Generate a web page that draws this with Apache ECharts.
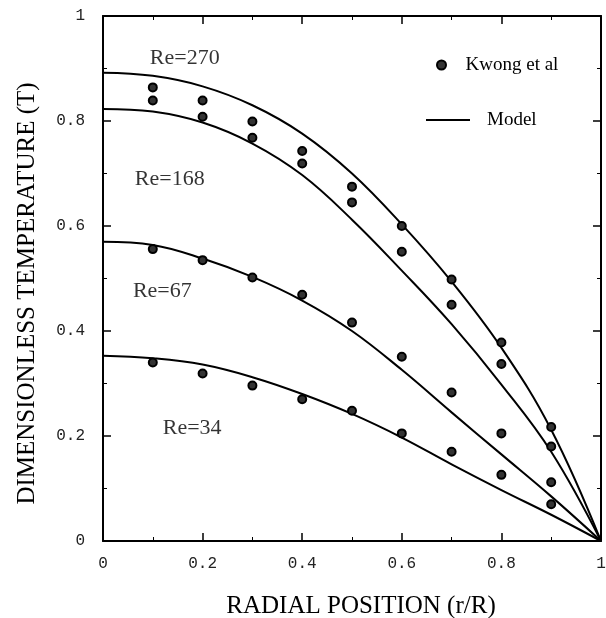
<!DOCTYPE html>
<html>
<head>
<meta charset="utf-8">
<script src="https://cdn.jsdelivr.net/npm/echarts@6/dist/echarts.min.js"></script>
<style>
  html, body { margin: 0; padding: 0; background: #fff; }
  #chart { width: 606px; height: 618px; }
</style>
</head>
<body>
<div id="chart"></div>
<script>
// model curves, T vs r/R
var modelX = [0, 0.1, 0.2, 0.3, 0.4, 0.5, 0.6, 0.7, 0.8, 0.9, 1.0];
var model270 = [0.892, 0.886, 0.866, 0.830, 0.776, 0.700, 0.603, 0.494, 0.368, 0.212, 0];
var model168 = [0.823, 0.818, 0.797, 0.757, 0.697, 0.612, 0.515, 0.413, 0.298, 0.170, 0];
var model67  = [0.570, 0.564, 0.538, 0.503, 0.458, 0.400, 0.326, 0.245, 0.165, 0.085, 0];
var model34  = [0.353, 0.348, 0.336, 0.312, 0.280, 0.242, 0.197, 0.146, 0.097, 0.050, 0];

// Kwong et al measurements
var kwongX   = [0.1, 0.2, 0.3, 0.4, 0.5, 0.6, 0.7, 0.8, 0.9];
var kwong270 = [0.864, 0.839, 0.799, 0.743, 0.675, 0.600, 0.498, 0.378, 0.217];
var kwong168 = [0.839, 0.808, 0.768, 0.719, 0.645, 0.551, 0.450, 0.337, 0.180];
var kwong67  = [0.556, 0.535, 0.502, 0.469, 0.416, 0.351, 0.283, 0.205, 0.112];
var kwong34  = [0.340, 0.319, 0.296, 0.270, 0.248, 0.205, 0.170, 0.126, 0.070];

// curve labels (text, and where they sit in data coords)
var reNames = ['Re=270', 'Re=168', 'Re=67', 'Re=34'];
var reLabelAt = [[0.094, 0.92], [0.064, 0.69], [0.060, 0.476], [0.12, 0.214]];

function zip(xs, ys) {
  return xs.map(function (x, i) { return [x, ys[i]]; });
}

var kwongData = []
  .concat(zip(kwongX, kwong270))
  .concat(zip(kwongX, kwong168))
  .concat(zip(kwongX, kwong67))
  .concat(zip(kwongX, kwong34));

var serif = 'Liberation Serif';
var mono = 'Liberation Mono';

function lineSeries(ys) {
  return {
    name: 'Model',
    type: 'line',
    data: zip(modelX, ys),
    smooth: 0.4,
    symbol: 'none',
    lineStyle: { color: '#000', width: 2 },
    itemStyle: { color: '#000' },
    z: 2
  };
}

var frameAxis = {
  type: 'value',
  min: 0,
  max: 1,
  interval: 0.2,
  axisLine: { show: true, onZero: false, lineStyle: { color: '#000', width: 2 } },
  axisTick: { show: true, inside: true, length: 8, lineStyle: { color: '#000', width: 1.5 } },
  minorTick: { show: true, splitNumber: 2, length: 4, lineStyle: { color: '#000', width: 1 } },
  splitLine: { show: false }
};

function axis(extra) {
  return Object.assign({}, JSON.parse(JSON.stringify(frameAxis)), extra);
}

var chart = echarts.init(document.getElementById('chart'));
chart.setOption({
  animation: false,
  backgroundColor: '#fff',
  grid: { left: 103, right: 5, top: 16, bottom: 77, outerBoundsMode: 'none' },
  legend: [
    {
      data: ['Kwong et al'],
      left: 436,
      top: 55,
      padding: 0,
      itemWidth: 16,
      itemHeight: 9,
      textStyle: { fontFamily: serif, fontSize: 19, color: '#000', padding: [0, 0, 0, 11], lineHeight: 20 }
    },
    {
      data: [{ name: 'Model', icon: 'rect' }],
      left: 426,
      top: 110,
      padding: 0,
      itemWidth: 44,
      itemHeight: 2,
      itemStyle: { color: '#000' },
      textStyle: { fontFamily: serif, fontSize: 19, color: '#000', padding: [0, 0, 0, 12], lineHeight: 20 }
    }
  ],
  xAxis: [
    axis({
      position: 'bottom',
      name: 'RADIAL POSITION (r/R)',
      nameLocation: 'middle',
      nameGap: 53,
      nameTextStyle: { fontFamily: serif, fontSize: 25, color: '#000', padding: [0, 0, 0, 18] },
      axisLabel: { fontFamily: mono, fontSize: 16, color: '#222', margin: 15 }
    }),
    axis({ position: 'top', axisLabel: { show: false } })
  ],
  yAxis: [
    axis({
      position: 'left',
      name: 'DIMENSIONLESS TEMPERATURE (T)',
      nameLocation: 'middle',
      nameGap: 63,
      nameTextStyle: { fontFamily: serif, fontSize: 25, color: '#000', padding: [0, 30, 0, 0] },
      axisLabel: { fontFamily: mono, fontSize: 16, color: '#222', margin: 18 }
    }),
    axis({ position: 'right', axisLabel: { show: false } })
  ],
  series: [
    lineSeries(model270),
    lineSeries(model168),
    lineSeries(model67),
    lineSeries(model34),
    {
      name: 'Kwong et al',
      type: 'scatter',
      data: kwongData,
      symbol: 'circle',
      symbolSize: 8,
      itemStyle: { color: '#333', borderColor: '#000', borderWidth: 2, opacity: 1 },
      z: 3
    },
    {
      name: 'labels',
      type: 'scatter',
      symbolSize: 0,
      silent: true,
      data: reLabelAt.map(function (p, i) { return { value: p, name: reNames[i] }; }),
      label: {
        show: true,
        position: 'right',
        distance: 0,
        formatter: '{b}',
        fontFamily: serif,
        fontSize: 22,
        color: '#000'
      }
    }
  ]
});
</script>
</body>
</html>
